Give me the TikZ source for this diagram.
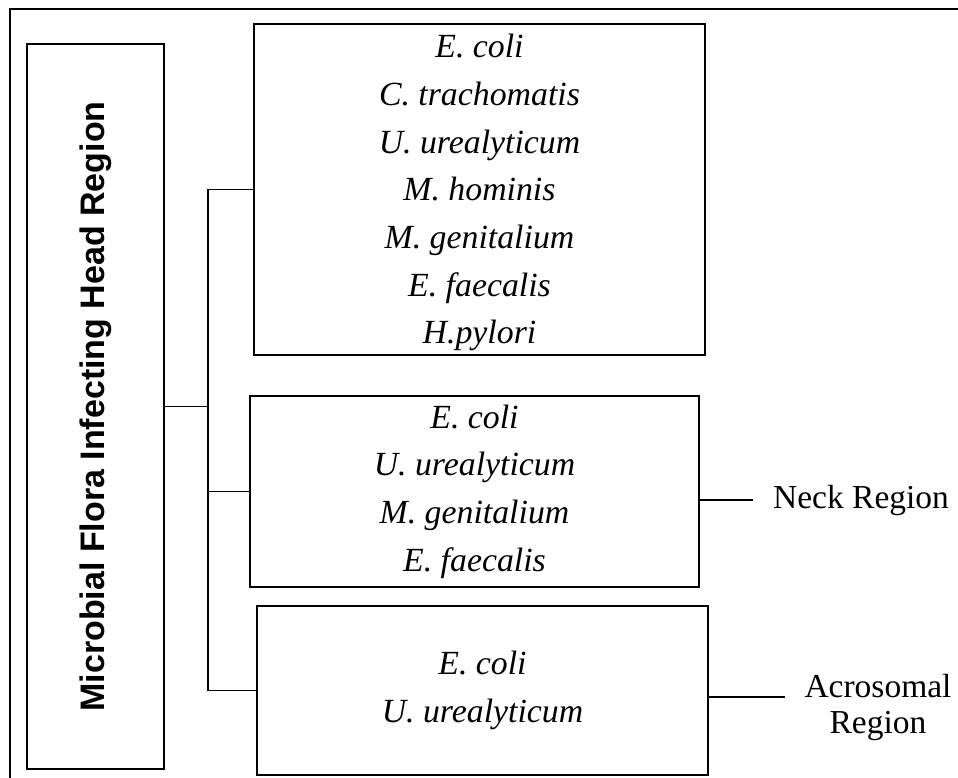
\documentclass[tikz,border=0pt]{standalone}
\usepackage{fontspec}
\setmainfont{Liberation Serif}
\setsansfont{Liberation Sans}
\usetikzlibrary{positioning}

\begin{document}
\begin{tikzpicture}[x=1pt,y=-1pt,
  every node/.style={inner sep=0pt,outer sep=0pt},
  frame/.style={line width=1.3pt},
  species/.style={draw,line width=1.3pt,align=center,
    font=\fontsize{33.8}{47.7}\selectfont\itshape},
  region/.style={align=center,font=\fontsize{33.5}{36}\selectfont},
  link/.style={line width=1.1pt},
  tick/.style={line width=2.2pt,shorten >=20pt}]
\useasboundingbox (0,0) rectangle (958,778);
% outer frame
\draw [frame] (958,9) -- (10,9) -- (10,778);
% left title box
\node [draw,frame,minimum width=137pt,minimum height=725pt] (head) at (95.5,406.5) {};
\node [rotate=90,font=\fontsize{34}{40}\selectfont\sffamily\bfseries] (title) at (head) {Microbial Flora Infecting Head Region};
% species boxes
\node [species,minimum width=451pt,minimum height=331pt] (box1) at (479.5,189.5)
  {\rule{0pt}{30pt}E. coli\\C. trachomatis\\U. urealyticum\\M. hominis\\M. genitalium\\E. faecalis\\H.pylori};
\node [species,minimum width=449pt,minimum height=191pt] (box2) at (474.5,491.5)
  {E. coli\\U. urealyticum\\M. genitalium\\E. faecalis};
\node [species,minimum width=451pt,minimum height=169pt] (box3) at (482.5,690.5)
  {E. coli\\U. urealyticum};
% region labels
\node [region] (neck) at (861,500) {Neck Region};
\node [region] (acro) at (878,707) {Acrosomal\\Region};
% connectors
\coordinate (hub) at (208,406.5);
\draw [link] (head.east) -- (hub);
\draw [link] (box1.west) -| (hub) |- (box3.west);
\draw [link] (hub |- box2.west) -- (box2.west);
\draw [tick] (box2.east |- neck.west) -- (neck.west);
\draw [tick] ([yshift=-6.5pt]box3.east) -- ([yshift=-6.5pt]box3.east -| acro.west);
\end{tikzpicture}
\end{document}
